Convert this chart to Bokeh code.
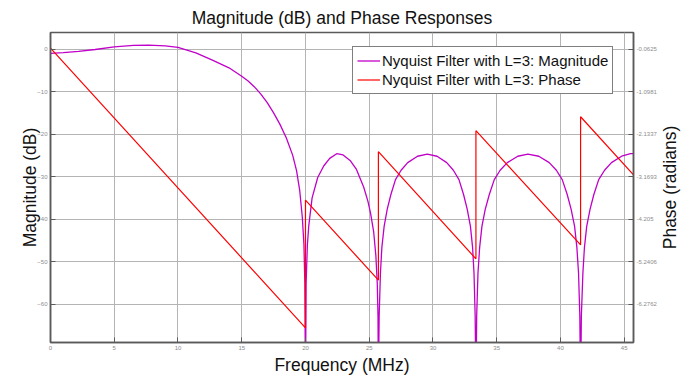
import math
from bokeh.plotting import figure
from bokeh.models import (Range1d, LinearAxis, FixedTicker, CustomJSTickFormatter,
                          Legend, LegendItem, Label)
from bokeh.embed import file_html
from bokeh.resources import INLINE

# ---------------- data ----------------
mag_freq = [
    0.0, 1.0, 2.2, 3.5, 5.0, 6.5, 7.7, 9.0, 10.0, 11.4, 12.7, 14.0, 15.0, 15.5, 16.0,
    16.5, 17.0, 17.5, 18.0, 18.5, 19.0, 19.3, 19.55, 19.75, 19.88, 19.95, 20.0,
    20.05, 20.15, 20.26, 20.52, 20.96, 21.43, 21.9, 22.45, 22.95, 23.5, 24.0, 24.57,
    24.9, 25.1, 25.35, 25.52, 25.63, 25.69, 25.72,
    25.78, 25.88, 25.99, 26.17, 26.41, 26.70, 27.06, 27.50, 28.02, 28.79, 29.55,
    30.32, 31.08, 31.60, 32.04, 32.40, 32.69, 32.94, 33.11, 33.22, 33.31, 33.37,
    33.43, 33.53, 33.66, 33.84, 34.10, 34.42, 34.81, 35.27, 35.83, 36.65, 37.45,
    38.30, 39.12, 39.68, 40.14, 40.53, 40.84, 41.11, 41.29, 41.42, 41.52, 41.58,
    41.64, 41.76, 41.88, 42.06, 42.32, 42.62, 43.00, 43.46, 44.00, 44.80, 45.50, 45.75,
]
mag_db = [
    -1.0, -0.85, -0.55, -0.1, 0.5, 0.85, 0.95, 0.75, 0.4, -0.9, -2.6, -4.4, -6.4, -7.5, -8.9,
    -10.6, -12.6, -15.0, -17.7, -20.9, -25.0, -28.6, -33.3, -39.5, -46.0, -55.0, -80.0,
    -55.0, -46.0, -41.5, -35.0, -30.2, -27.5, -25.7, -24.6, -24.9, -26.2, -28.3, -32.5,
    -35.8, -38.5, -43.0, -48.5, -55.0, -63.0, -80.0,
    -62.7, -52.7, -46.7, -41.7, -37.7, -34.2, -30.7, -28.5, -26.7, -25.2, -24.7,
    -25.2, -26.7, -28.5, -30.7, -34.2, -37.7, -41.7, -46.7, -52.7, -62.7, -80.0,
    -62.7, -52.7, -46.7, -41.7, -37.7, -34.2, -30.7, -28.5, -26.7, -25.2, -24.7,
    -25.2, -26.7, -28.5, -30.7, -34.2, -37.7, -41.7, -46.7, -52.7, -62.7, -80.0,
    -62.7, -52.7, -46.7, -41.7, -37.7, -34.2, -30.7, -28.5, -26.7, -25.2, -24.6, -24.6,
]

phase_freq = [0.0, 20.0, 20.0, 25.72, 25.72, 33.37, 33.37, 41.58, 41.58, 45.75]
phase_rad = [-0.04, -6.85, -3.74, -5.69, -2.56, -5.17, -2.05, -4.83, -1.71, -3.13]

x_ticks = [0, 5, 10, 15, 20, 25, 30, 35, 40, 45]
db_ticks = [0, -10, -20, -30, -40, -50, -60]
phase_ticks = [-0.0625, -1.0981, -2.1337, -3.1693, -4.205, -5.2406, -6.2762]

title_text = "Magnitude (dB) and Phase Responses"
x_label = "Frequency (MHz)"
y_label = "Magnitude (dB)"
y2_label = "Phase (radians)"
mag_label = "Nyquist Filter with L=3: Magnitude"
phase_label = "Nyquist Filter with L=3: Phase"

# ---------------- figure ----------------
FONT = "Liberation Sans"
AXIS_COL = "#5a5a5a"
TICK_COL = "#8c8c8c"

p = figure(width=691, height=382, output_backend="svg", toolbar_location=None,
           x_range=Range1d(0, 45.73), y_range=Range1d(-69, 3.9),
           min_border_left=50, min_border_right=58, min_border_top=32,
           min_border_bottom=40, background_fill_color="white",
           border_fill_color="white")
p.extra_y_ranges = {"phase": Range1d(-7.2081, 0.3414)}

p.title.text = title_text
p.title.align = "center"
p.title.text_font = FONT
p.title.text_font_size = "17.5px"
p.title.text_font_style = "normal"
p.title.text_color = "#111111"

p.outline_line_color = AXIS_COL
p.outline_line_width = 1.5

# grid
p.xgrid.ticker = FixedTicker(ticks=x_ticks)
p.ygrid.ticker = FixedTicker(ticks=db_ticks)
for g in (p.xgrid, p.ygrid):
    g.grid_line_color = "#b4b4b4"
    g.grid_line_width = 1

# x axis
xa = p.xaxis[0]
xa.ticker = FixedTicker(ticks=x_ticks)
xa.axis_label = x_label
# y axis
ya = p.yaxis[0]
ya.ticker = FixedTicker(ticks=db_ticks)
ya.axis_label = y_label

ya2 = LinearAxis(y_range_name="phase",
                 ticker=FixedTicker(ticks=phase_ticks),
                 formatter=CustomJSTickFormatter(code="return tick.toString();"))
p.add_layout(ya2, "right")

for ax in (xa, ya, ya2):
    ax.axis_line_color = AXIS_COL
    ax.axis_line_width = 1.5
    ax.major_tick_line_color = AXIS_COL
    ax.major_tick_in = 5
    ax.major_tick_out = 0
    ax.minor_tick_line_color = None
    ax.major_label_text_font = FONT
    ax.major_label_text_font_size = "6px"
    ax.major_label_text_color = TICK_COL
    ax.major_label_standoff = 3
    ax.axis_label_text_font = FONT
    ax.axis_label_text_font_size = "17.5px"
    ax.axis_label_text_font_style = "normal"
    ax.axis_label_text_color = "#111111"

xa.axis_label_standoff = 2
ya.axis_label_standoff = -6

# right-hand axis title (reads bottom to top), placed in a side panel
y2_title = Label(x=10, y=155, x_units="screen", y_units="screen",
                 text=y2_label, angle=math.pi / 2, angle_units="rad",
                 text_align="center", text_baseline="middle",
                 text_font=FONT, text_font_size="17.5px", text_color="#111111")
p.add_layout(y2_title, "right")

# lines
r_mag = p.line(mag_freq, mag_db, line_color="#c000c8", line_width=1.3)
r_ph = p.line(phase_freq, phase_rad, y_range_name="phase", line_color="#ff0000",
              line_width=1.2)

legend = Legend(items=[LegendItem(label=mag_label, renderers=[r_mag]),
                       LegendItem(label=phase_label, renderers=[r_ph])],
                location=(302, 248))
legend.margin = 0
legend.padding = 4
legend.spacing = 0
legend.label_text_font = FONT
legend.label_text_font_size = "15px"
legend.label_text_color = "#111111"
legend.label_height = 19
legend.glyph_height = 19
legend.glyph_width = 23
legend.label_standoff = 2
legend.border_line_color = "black"
legend.border_line_width = 1
legend.background_fill_color = "white"
legend.background_fill_alpha = 1.0
p.add_layout(legend)

open("out.html", "w").write(file_html(p, INLINE))
